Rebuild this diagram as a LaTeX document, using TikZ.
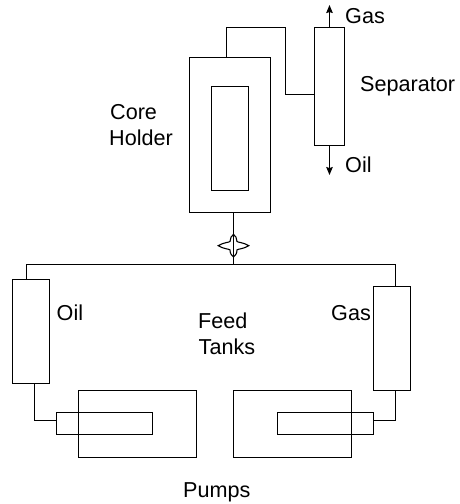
\documentclass[tikz,border=0pt]{standalone}
\usepackage{fontspec}
\setmainfont{Liberation Sans}
\usetikzlibrary{arrows.meta}
\tikzset{
  box/.style={draw=black,line width=1.1pt,inner sep=0pt,outer sep=0pt},
  pipe/.style={draw=black,line width=1.1pt},
  flow/.style={pipe,-{Stealth[length=8pt,width=6.5pt,inset=1pt]}},
  lbl/.style={anchor=base west,inner sep=0pt,font=\fontsize{21.6}{21.6}\selectfont},
}
\newcommand{\boxat}[5]{\node[box,minimum width=#4pt-#2pt,minimum height=#5pt-#3pt] (#1) at ({(#2+#4)/2},{(#3+#5)/2}) {};}
\begin{document}
\begin{tikzpicture}[x=1pt,y=-1pt]
\useasboundingbox (0,0) rectangle (459,504);
% boxes: name, left, top, right, bottom
\boxat{core}{189.5}{57.5}{270.5}{212.5}
\boxat{sample}{211.5}{86.5}{248.5}{190.5}
\boxat{sep}{314.5}{27.5}{344.5}{145.5}
\boxat{oiltank}{12.5}{279.5}{49.5}{383.5}
\boxat{gastank}{373.5}{286.5}{410.5}{390.5}
\boxat{pumpL}{78.5}{390.5}{196.5}{457.5}
\boxat{pistonL}{56.5}{412.5}{152.5}{434.5}
\boxat{pumpR}{233.5}{390.5}{351.5}{457.5}
\boxat{pistonR}{277.5}{412.5}{373.5}{434.5}
% junctions
\coordinate (tee) at (233.5,264.5);
\coordinate (a1) at (226.5,27.5);
\coordinate (a2) at (285.5,27.5);
\coordinate (a3) at (285.5,94.5);
\coordinate (gasEnd) at (329.5,5);
\coordinate (oilEnd) at (329.5,175);
\coordinate (left) at (26.5,264.5);
\coordinate (right) at (395.5,264.5);
\coordinate (lbend) at (34.5,420.5);
\coordinate (rbend) at (395.5,420.5);
% connectors
\draw[pipe] (core.north -| a1) -- (a1) -- (a2) -- (a3) -- (a3 -| sep.west);
\draw[flow] (sep.north) -- (gasEnd);
\draw[flow] (sep.south) -- (oilEnd);
\draw[pipe] (core.south -| tee) -- (tee);
\draw[pipe] (oiltank.north -| left) -- (left) -- (right) -- (gastank.north -| right);
\draw[pipe] (oiltank.south -| lbend) -- (lbend) -- (lbend -| pistonL.west);
\draw[pipe] (gastank.south -| rbend) -- (rbend) -- (rbend -| pistonR.east);
% valve symbol
\filldraw[pipe,fill=white]
  (218.3,245.7) .. controls (223,242.5) and (229,242.5) .. (230,241.5)
  .. controls (230,238) and (231.5,236) .. (233.5,234.3)
  .. controls (235.5,236) and (237,238) .. (237,241.5)
  .. controls (238,242.5) and (244,242.5) .. (248.7,245.7)
  .. controls (244,248.9) and (238,248.9) .. (237,249.9)
  .. controls (237,253.4) and (235.5,255.4) .. (233.5,257)
  .. controls (231.5,255.4) and (230,253.4) .. (230,249.9)
  .. controls (229,248.9) and (223,248.9) .. (218.3,245.7) -- cycle;
\draw[pipe] (233.5,234.3) -- (233.5,257);
% labels
\node[lbl] (tGas) at (345,23.5) {Gas};
\node[lbl] (tSep) at (360,91) {Separator};
\node[lbl] (tOil) at (345,172) {Oil};
\node[lbl] (tCore) at (110,119.5) {Core};
\node[lbl] (tHolder) at (109,145.5) {Holder};
\node[lbl] (tOil2) at (56.5,320) {Oil};
\node[lbl] (tGas2) at (331,320) {Gas};
\node[lbl] (tFeed) at (198,328) {Feed};
\node[lbl] (tTanks) at (198.5,354) {Tanks};
\node[lbl] (tPumps) at (183,497) {Pumps};
\end{tikzpicture}
\end{document}
